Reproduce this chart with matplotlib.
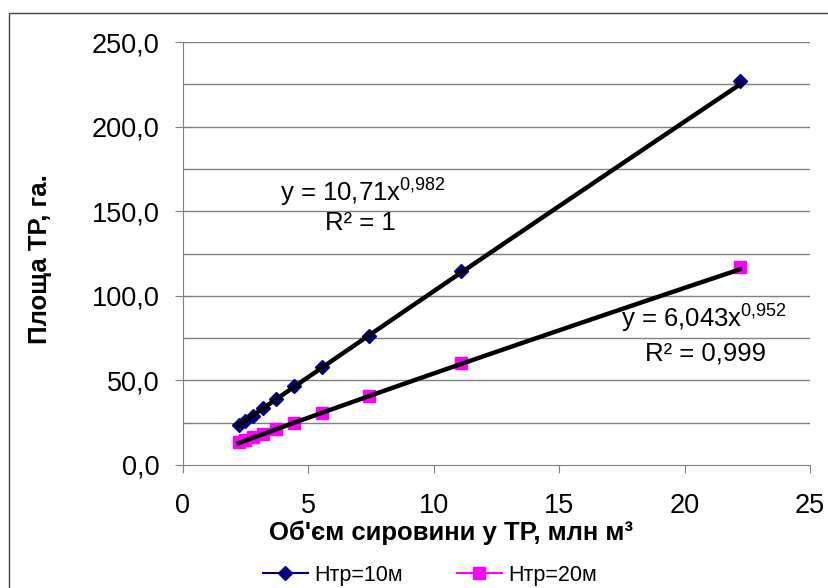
import numpy as np
import matplotlib.pyplot as plt
from matplotlib.lines import Line2D
from matplotlib.patches import Rectangle

plt.rcParams['font.family'] = ['Liberation Sans', 'DejaVu Sans']
plt.rcParams['mathtext.default'] = 'regular'

# volume of raw material, mln m3
volume = [22.2, 11.1, 7.4, 5.55, 4.44, 3.7, 3.17, 2.78, 2.47, 2.22]
# area for H=10 m and H=20 m, ha
area10 = [227.0, 114.5, 76.5, 58.0, 46.5, 39.0, 33.5, 29.0, 26.0, 23.5]
area20 = [117.0, 60.0, 41.0, 31.0, 25.0, 21.5, 18.5, 16.5, 14.5, 13.5]
labels = ['Нтр=10м', 'Нтр=20м']
# power trendlines y = a*x^b
fit10 = (10.71, 0.982)
fit20 = (6.043, 0.952)
eq10 = ['y = 10,71x$^{0{,}982}$', 'R² = 1']
eq20 = ['y = 6,043x$^{0{,}952}$', 'R² = 0,999']

W, H = 829, 588
fig = plt.figure(figsize=(W/100, H/100), dpi=100)
ax = fig.add_axes([183/W, 1-465/H, (810-183)/W, (465-42)/H])

# outer chart border
fig.patches.append(Rectangle((9.5/W, -0.2), 1.5, 1.2 - 13/H, transform=fig.transFigure,
                             fill=False, edgecolor='#404040', linewidth=1.0))

ax.plot(volume, area10, linestyle='none', marker='D', color='#000080', markersize=7, zorder=3)
ax.plot(volume, area20, linestyle='none', marker='s', color='#FF00FF', markersize=9, zorder=3)

# trendlines over the data range
for fit in (fit10, fit20):
    xs = np.linspace(min(volume), max(volume), 100)
    ax.plot(xs, fit[0] * xs ** fit[1], color='black', linewidth=3.2, zorder=4)

ax.set_xlim(0, 25)
ax.set_ylim(0, 250)
ax.set_xticks(range(0, 26, 5))
ax.set_yticks(range(0, 251, 50))
ax.set_yticklabels(['%d,0' % v for v in range(0, 251, 50)])
for v in range(25, 251, 25):
    ax.axhline(v, color='#808080', linewidth=1.0, zorder=1)

for s in ['top', 'right']:
    ax.spines[s].set_visible(False)
for s in ['left', 'bottom']:
    ax.spines[s].set_color('#808080')
ax.tick_params(axis='both', colors='#808080', labelcolor='black', labelsize=19.5, length=6)
ax.tick_params(axis='y', pad=11)
ax.tick_params(axis='x', pad=14)

fig.text(40/W, 1-259/H, 'Площа ТР, га.', rotation=90, ha='center', va='center',
         fontsize=18.5, fontweight='bold')
fig.text(451/W, 1-533/H, "Об'єм сировини у ТР, млн м³", ha='center', va='center',
         fontsize=18.5, fontweight='bold')

fig.text(363/W, 1-193/H, eq10[0], ha='center', va='center', fontsize=18.5)
fig.text(360/W, 1-223/H, eq10[1], ha='center', va='center', fontsize=18.5)
fig.text(704/W, 1-319/H, eq20[0], ha='center', va='center', fontsize=18.5)
fig.text(706/W, 1-353/H, eq20[1], ha='center', va='center', fontsize=18.5)

handles = [Line2D([], [], color='#000080', marker='D', markersize=7, linewidth=1.5),
           Line2D([], [], color='#FF00FF', marker='s', markersize=9, linewidth=1.5)]
fig.legend(handles, labels, loc='center', bbox_to_anchor=(430/W, 1-575/H), ncol=2,
           frameon=False, fontsize=15.5, handlelength=2.1, columnspacing=2.5,
           handletextpad=0.3)

fig.savefig('out.png', dpi=100)
